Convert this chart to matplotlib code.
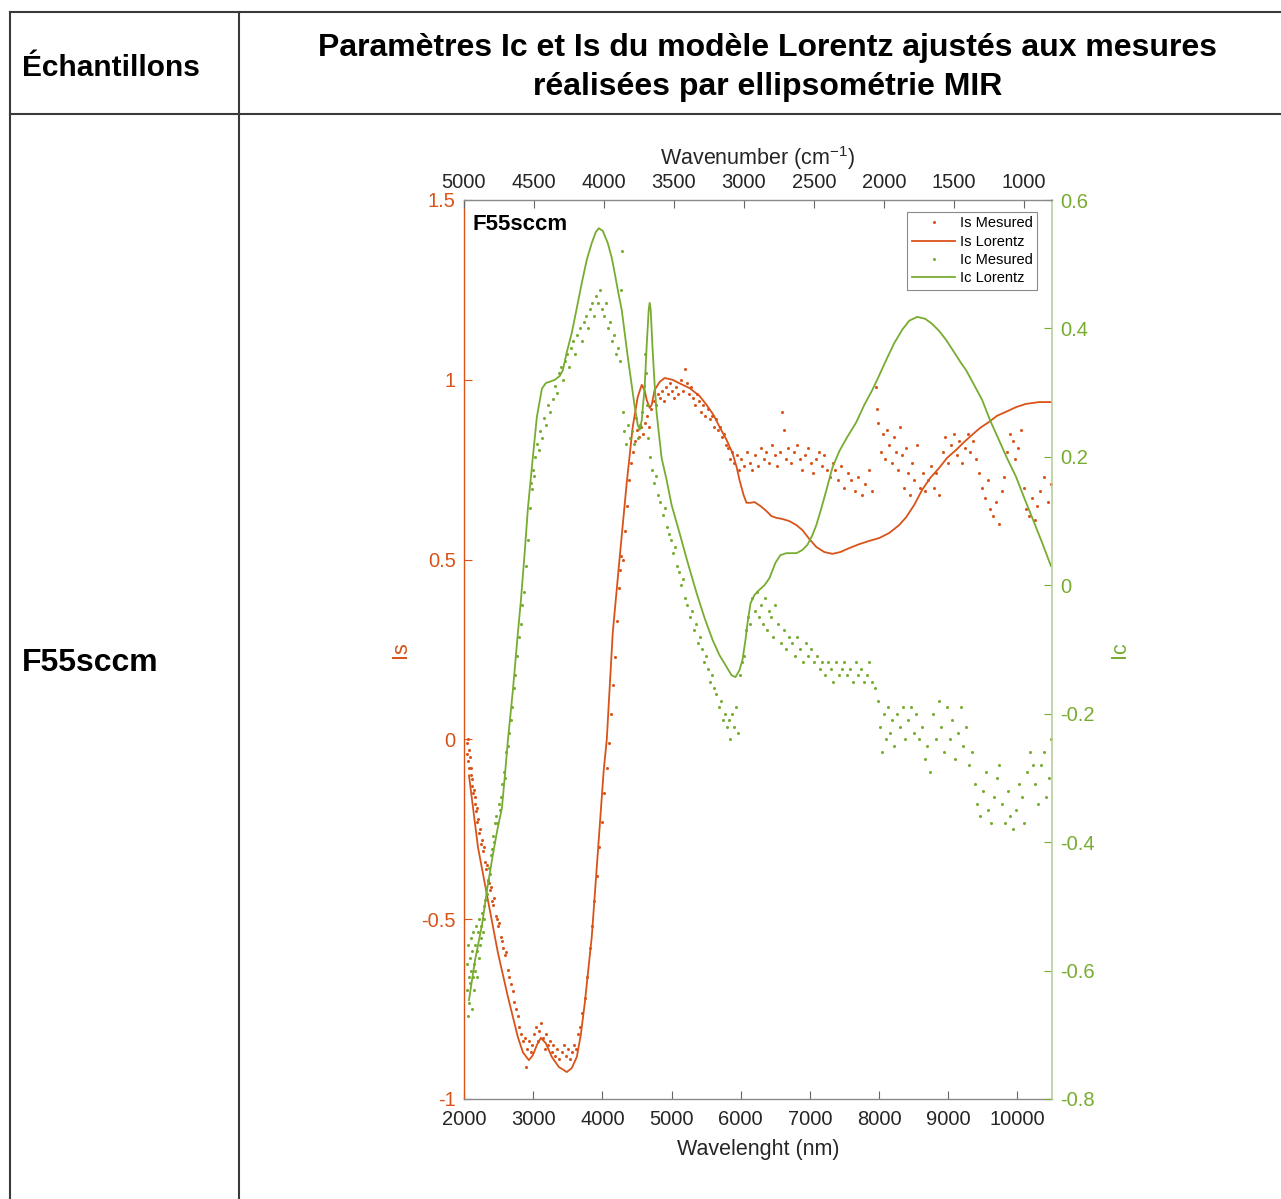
import matplotlib

matplotlib.use("Agg")
import matplotlib.pyplot as plt
from matplotlib.lines import Line2D

W, H = 1281, 1199
RED = "#D95319"
GREEN = "#77AC30"
INK = "#262626"
GRID = "#3a3a3a"

plt.rcParams["font.family"] = ["Liberation Sans", "DejaVu Sans"]
plt.rcParams["mathtext.default"] = "regular"
plt.rcParams["axes.unicode_minus"] = False

# --- data ----------------------------------------------------------------
# Is, Lorentz fit (wavelength nm, Is)
is_fit_x = [2072, 2202, 2346, 2491, 2635, 2779, 2851, 2938, 2996, 3053, 3111, 3183,
            3270, 3371, 3486, 3558, 3631, 3688, 3746, 3847, 3934, 4020, 4064, 4150,
            4251, 4352, 4439, 4511, 4569, 4612, 4641, 4684, 4713, 4756, 4828, 4900,
            5016, 5117, 5261, 5405, 5507, 5608, 5694, 5795, 5882, 5940, 5983, 6041,
            6084, 6142, 6199, 6286, 6372, 6444, 6517, 6603, 6704, 6805, 6892, 6993,
            7094, 7209, 7325, 7440, 7570, 7714, 7859, 8003, 8147, 8291, 8392, 8508,
            8623, 8739, 8869, 8984, 9114, 9230, 9345, 9460, 9590, 9706, 9835, 9980,
            10124, 10312, 10485]
is_fit_y = [-0.10, -0.30, -0.447, -0.594, -0.716, -0.828, -0.87, -0.892, -0.878, -0.85,
            -0.83, -0.845, -0.883, -0.911, -0.925, -0.914, -0.883, -0.822, -0.733, -0.549,
            -0.316, -0.085, 0.0, 0.296, 0.507, 0.713, 0.869, 0.952, 0.986, 0.97,
            0.944, 0.922, 0.93, 0.972, 0.994, 1.005, 1.0, 0.99, 0.977, 0.955,
            0.93, 0.902, 0.869, 0.833, 0.796, 0.758, 0.721, 0.68, 0.658, 0.658,
            0.66, 0.649, 0.635, 0.621, 0.616, 0.613, 0.607, 0.596, 0.582, 0.557,
            0.535, 0.521, 0.516, 0.521, 0.532, 0.543, 0.552, 0.56, 0.574, 0.596,
            0.618, 0.652, 0.694, 0.727, 0.755, 0.783, 0.805, 0.827, 0.847, 0.866,
            0.883, 0.9, 0.911, 0.924, 0.933, 0.938, 0.938]

# Ic, Lorentz fit (wavelength nm, Ic)
ic_fit_x = [2072, 2159, 2260, 2332, 2404, 2476, 2548, 2592, 2635, 2707, 2779, 2823,
            2880, 2924, 2981, 3053, 3126, 3183, 3241, 3313, 3385, 3429, 3486, 3558,
            3631, 3703, 3775, 3847, 3905, 3948, 4006, 4078, 4136, 4179, 4237, 4280,
            4323, 4367, 4424, 4468, 4511, 4540, 4569, 4612, 4641, 4670, 4684, 4699,
            4727, 4756, 4785, 4857, 4929, 5001, 5117, 5232, 5362, 5478, 5593, 5694,
            5795, 5867, 5925, 5983, 6026, 6069, 6098, 6142, 6199, 6271, 6343, 6415,
            6502, 6574, 6661, 6805, 6892, 6964, 7036, 7094, 7166, 7238, 7325, 7426,
            7541, 7671, 7787, 7902, 8003, 8104, 8219, 8335, 8436, 8551, 8667, 8768,
            8869, 8970, 9085, 9186, 9258, 9374, 9489, 9605, 9734, 9850, 9980, 10095,
            10211, 10355, 10485]
ic_fit_y = [-0.646, -0.584, -0.529, -0.475, -0.428, -0.384, -0.347, -0.295, -0.241, -0.163,
            -0.074, -0.023, 0.055, 0.12, 0.184, 0.262, 0.306, 0.315, 0.317, 0.32,
            0.326, 0.335, 0.363, 0.393, 0.432, 0.471, 0.507, 0.533, 0.55, 0.556,
            0.552, 0.533, 0.51, 0.486, 0.452, 0.429, 0.393, 0.356, 0.312, 0.278,
            0.25, 0.242, 0.257, 0.309, 0.374, 0.429, 0.44, 0.429, 0.366, 0.312,
            0.268, 0.198, 0.164, 0.125, 0.081, 0.036, -0.012, -0.051, -0.085, -0.109,
            -0.127, -0.14, -0.143, -0.132, -0.116, -0.085, -0.059, -0.028, -0.015, -0.007,
            0.0, 0.011, 0.035, 0.047, 0.05, 0.05, 0.055, 0.063, 0.078, 0.094,
            0.12, 0.148, 0.183, 0.209, 0.231, 0.254, 0.281, 0.304, 0.327, 0.351,
            0.377, 0.398, 0.412, 0.418, 0.415, 0.407, 0.396, 0.382, 0.363, 0.346,
            0.335, 0.312, 0.289, 0.257, 0.226, 0.198, 0.169, 0.137, 0.106, 0.067,
            0.03]

# Is, measured points
is_mes_x = [2040, 2048, 2055, 2062, 2070, 2078, 2086, 2095, 2104, 2113, 2122, 2132,
            2142, 2152, 2162, 2173, 2184, 2195, 2207, 2219, 2231, 2244, 2257, 2270,
            2284, 2298, 2312, 2327, 2342, 2357, 2373, 2389, 2405, 2422, 2439, 2456,
            2474, 2492, 2511, 2530, 2550, 2570, 2591, 2612, 2634, 2656, 2679, 2702,
            2726, 2750, 2775, 2800, 2826, 2852, 2879, 2890,
            2915, 2940, 2965, 2990, 3015, 3040, 3065, 3090, 3115, 3140, 3165, 3190,
            3215, 3240, 3265, 3290, 3320, 3350, 3380, 3410, 3440, 3470, 3500, 3530,
            3560, 3590, 3620, 3650, 3680, 3710,
            3745, 3780, 3815, 3850, 3885, 3920, 3955, 3990, 4025, 4060, 4095, 4125,
            4155, 4185, 4210, 4235, 4255, 4275, 4300, 4325, 4350, 4380, 4410, 4440,
            4470, 4500, 4530, 4560, 4590, 4620, 4650, 4680, 4710, 4740, 4770, 4800,
            4830, 4860, 4890, 4920, 4950, 4980, 5010, 5040, 5070, 5100, 5130, 5160,
            5190, 5220, 5250, 5280, 5310, 5340, 5370, 5400, 5430, 5460, 5490, 5520,
            5550, 5580, 5610, 5640, 5670, 5700, 5730, 5760, 5790, 5820, 5850, 5880,
            5910, 5940, 5970,
            6010, 6050, 6090, 6130, 6170, 6210, 6250, 6290, 6330, 6370, 6410, 6450,
            6490, 6530, 6570, 6600, 6620, 6650, 6690, 6730, 6770, 6810, 6850, 6890,
            6930, 6970, 7010, 7050, 7090, 7130, 7170, 7210, 7250, 7290, 7330, 7370,
            7410, 7450, 7500, 7550, 7600, 7650, 7700, 7750, 7800, 7850, 7900,
            7950, 7970, 7990, 8030, 8060, 8090, 8120, 8150, 8180, 8210, 8240, 8270,
            8300, 8330, 8360, 8390, 8420, 8450, 8480, 8510, 8550, 8590, 8630, 8670,
            8710, 8750, 8790, 8830, 8870, 8920, 8960, 9000, 9040, 9080, 9120, 9160,
            9200, 9240, 9280, 9320, 9360, 9400, 9450, 9490, 9530, 9570, 9610, 9650,
            9690, 9730, 9770, 9810, 9850, 9890, 9930, 9970, 10010, 10050, 10090, 10130,
            10170, 10210, 10250, 10290, 10330, 10390, 10440, 10490]
is_mes_y = [-0.01, -0.04, 0.00, -0.06, -0.03, -0.08, -0.05, -0.10, -0.08, -0.13, -0.11, -0.15,
            -0.14, -0.18, -0.16, -0.20, -0.19, -0.23, -0.22, -0.26, -0.25, -0.29, -0.28, -0.31,
            -0.30, -0.34, -0.36, -0.35, -0.39, -0.40, -0.42, -0.41, -0.45, -0.46, -0.44, -0.49,
            -0.50, -0.52, -0.51, -0.55, -0.56, -0.58, -0.60, -0.59, -0.64, -0.66, -0.68, -0.70,
            -0.73, -0.75, -0.77, -0.80, -0.82, -0.84, -0.83, -0.91,
            -0.86, -0.84, -0.87, -0.85, -0.82, -0.80, -0.84, -0.81, -0.79, -0.83, -0.86, -0.82,
            -0.85, -0.84, -0.87, -0.85, -0.88, -0.86, -0.89, -0.87, -0.85, -0.88, -0.86, -0.89,
            -0.87, -0.85, -0.86, -0.82, -0.80, -0.76,
            -0.72, -0.66, -0.58, -0.52, -0.45, -0.38, -0.30, -0.23, -0.15, -0.08, -0.01, 0.07,
            0.15, 0.23, 0.33, 0.42, 0.47, 0.51, 0.50, 0.58, 0.65, 0.72, 0.77, 0.80,
            0.83, 0.86, 0.84, 0.87, 0.85, 0.88, 0.90, 0.87, 0.92, 0.94, 0.93, 0.96,
            0.95, 0.97, 0.94, 0.98, 0.96, 0.99, 0.97, 0.95, 0.98, 0.96, 1.00, 0.97,
            1.03, 0.99, 0.96, 0.98, 0.95, 0.93, 0.96, 0.94, 0.91, 0.93, 0.90, 0.92,
            0.89, 0.90, 0.87, 0.89, 0.86, 0.87, 0.84, 0.85, 0.82, 0.81, 0.78, 0.80,
            0.77, 0.79, 0.75,
            0.78, 0.76, 0.80, 0.77, 0.75, 0.79, 0.76, 0.81, 0.78, 0.80, 0.77, 0.82,
            0.79, 0.76, 0.80, 0.91, 0.86, 0.78, 0.81, 0.77, 0.80, 0.82, 0.78, 0.75,
            0.79, 0.81, 0.77, 0.74, 0.78, 0.80, 0.76, 0.79, 0.75, 0.73, 0.77, 0.75,
            0.72, 0.76, 0.70, 0.74, 0.72, 0.69, 0.73, 0.68, 0.71, 0.75, 0.69,
            0.98, 0.92, 0.88, 0.80, 0.85, 0.78, 0.86, 0.82, 0.77, 0.84, 0.80, 0.75,
            0.87, 0.79, 0.70, 0.81, 0.74, 0.68, 0.77, 0.72, 0.82, 0.70, 0.74, 0.69,
            0.72, 0.76, 0.70, 0.74, 0.68, 0.80, 0.84, 0.77, 0.82, 0.85, 0.79, 0.83,
            0.77, 0.81, 0.85, 0.80, 0.83, 0.78, 0.74, 0.70, 0.67, 0.72, 0.64, 0.62,
            0.66, 0.60, 0.69, 0.73, 0.80, 0.85, 0.83, 0.78, 0.81, 0.86, 0.70, 0.64,
            0.62, 0.67, 0.61, 0.65, 0.69, 0.73, 0.66, 0.71]

# Ic, measured points
ic_mes_x = [2040, 2047, 2054, 2061, 2068, 2075, 2082, 2089, 2096, 2103, 2110, 2118,
            2126, 2134, 2142, 2150, 2158, 2166, 2175, 2184, 2193, 2202, 2211, 2221,
            2231, 2241, 2251, 2262, 2273, 2284, 2296, 2308, 2320, 2333, 2346, 2360,
            2374, 2389, 2404, 2419, 2435, 2451, 2467, 2484, 2501, 2519, 2537, 2555,
            2574, 2593, 2613, 2633, 2654, 2676, 2698, 2721, 2744, 2768, 2792, 2817,
            2843, 2869, 2896, 2923, 2950, 2965, 2980, 2995, 3010, 3030, 3055, 3080,
            3105, 3130, 3160, 3190, 3220, 3250, 3280, 3310, 3340, 3370, 3400, 3430,
            3460, 3490, 3520, 3550, 3580, 3610, 3640, 3670, 3700, 3730, 3760, 3790,
            3820, 3850, 3880, 3910, 3940, 3965, 3990, 4020, 4050, 4080, 4110, 4140,
            4170, 4200, 4230, 4255, 4270, 4285, 4300, 4320, 4345, 4370, 4400, 4430,
            4460, 4490, 4520, 4550, 4575, 4595, 4615, 4630, 4645, 4665, 4690, 4720,
            4750, 4780, 4810, 4840, 4870, 4900, 4930, 4960, 4990, 5020, 5050, 5080,
            5110, 5140, 5170, 5200, 5230, 5260, 5290, 5320, 5350, 5380, 5410, 5440,
            5470, 5500, 5530, 5560, 5590, 5620, 5650, 5680, 5710, 5740, 5770, 5800,
            5830, 5850, 5870, 5900, 5930, 5960, 5990, 6020, 6050, 6080, 6110, 6140,
            6170, 6200, 6230, 6260, 6290, 6320, 6350, 6380, 6410, 6440, 6470, 6500,
            6540, 6580, 6620, 6660, 6700, 6740, 6780, 6820, 6860, 6900, 6940, 6980,
            7020, 7060, 7100, 7140, 7180, 7220, 7260, 7300, 7340, 7380, 7420, 7460,
            7500, 7540, 7580, 7620, 7660, 7700, 7740, 7780, 7820, 7860, 7900, 7940,
            7980, 8010, 8040, 8070, 8100, 8130, 8160, 8190, 8220, 8260, 8300, 8340,
            8380, 8420, 8460, 8500, 8540, 8580, 8620, 8660, 8700, 8740, 8780, 8820,
            8860, 8900, 8940, 8980, 9020, 9060, 9100, 9140, 9180, 9220, 9260, 9300,
            9340, 9380, 9420, 9460, 9500, 9540, 9580, 9620, 9660, 9700, 9740, 9780,
            9820, 9860, 9900, 9940, 9980, 10020, 10060, 10100, 10140, 10180, 10220, 10260,
            10300, 10340, 10380, 10420, 10460, 10490]
ic_mes_y = [-0.63, -0.59, -0.67, -0.56, -0.61, -0.65, -0.58, -0.62, -0.55, -0.60, -0.66, -0.57,
            -0.61, -0.54, -0.59, -0.63, -0.56, -0.60, -0.53, -0.57, -0.61, -0.54, -0.58, -0.52,
            -0.56, -0.53, -0.55, -0.51, -0.54, -0.50, -0.52, -0.49, -0.47, -0.48, -0.46, -0.44,
            -0.45, -0.42, -0.41, -0.39, -0.40, -0.37, -0.36, -0.37, -0.34, -0.35, -0.33, -0.31,
            -0.29, -0.30, -0.26, -0.25, -0.23, -0.21, -0.19, -0.16, -0.14, -0.11, -0.08, -0.06,
            -0.03, -0.01, 0.03, 0.07, 0.12, 0.16, 0.15, 0.18, 0.17, 0.20, 0.22, 0.21,
            0.24, 0.23, 0.26, 0.25, 0.28, 0.27, 0.29, 0.31, 0.30, 0.33, 0.34, 0.32,
            0.35, 0.36, 0.34, 0.37, 0.38, 0.36, 0.39, 0.40, 0.38, 0.41, 0.42, 0.40,
            0.43, 0.44, 0.42, 0.45, 0.44, 0.46, 0.43, 0.42, 0.44, 0.40, 0.41, 0.38,
            0.39, 0.36, 0.37, 0.35, 0.46, 0.52, 0.27, 0.24, 0.22, 0.25, 0.23, 0.24,
            0.22, 0.26, 0.23, 0.25, 0.27, 0.31, 0.36, 0.33, 0.28, 0.23, 0.20, 0.18,
            0.16, 0.17, 0.14, 0.13, 0.11, 0.12, 0.09, 0.08, 0.07, 0.05, 0.06, 0.03,
            0.02, 0.00, 0.01, -0.02, -0.03, -0.05, -0.04, -0.07, -0.06, -0.09, -0.08, -0.10,
            -0.12, -0.11, -0.13, -0.15, -0.14, -0.16, -0.17, -0.19, -0.18, -0.21, -0.20, -0.22,
            -0.21, -0.24, -0.20, -0.22, -0.19, -0.23, -0.14, -0.12, -0.11, -0.07, -0.05, -0.06,
            -0.02, -0.04, -0.01, -0.05, -0.03, -0.06, -0.02, -0.07, -0.04, -0.05, -0.08, -0.03,
            -0.06, -0.09, -0.07, -0.10, -0.08, -0.09, -0.11, -0.08, -0.10, -0.12, -0.09, -0.11,
            -0.10, -0.12, -0.11, -0.13, -0.12, -0.14, -0.12, -0.13, -0.15, -0.12, -0.14, -0.13,
            -0.12, -0.14, -0.13, -0.15, -0.12, -0.14, -0.13, -0.15, -0.14, -0.12, -0.15, -0.16,
            -0.18, -0.22, -0.26, -0.20, -0.24, -0.19, -0.23, -0.21, -0.25, -0.20, -0.22, -0.19,
            -0.24, -0.21, -0.19, -0.23, -0.20, -0.24, -0.22, -0.27, -0.25, -0.29, -0.20, -0.24,
            -0.18, -0.22, -0.26, -0.19, -0.24, -0.21, -0.27, -0.23, -0.19, -0.25, -0.22, -0.28,
            -0.26, -0.31, -0.34, -0.36, -0.32, -0.29, -0.35, -0.37, -0.33, -0.30, -0.28, -0.34,
            -0.37, -0.32, -0.36, -0.38, -0.35, -0.31, -0.33, -0.37, -0.29, -0.26, -0.28, -0.31,
            -0.34, -0.28, -0.26, -0.33, -0.30, -0.24]

# axis ticks and labels
wl_ticks = [2000, 3000, 4000, 5000, 6000, 7000, 8000, 9000, 10000]
wn_ticks = [5000, 4500, 4000, 3500, 3000, 2500, 2000, 1500, 1000]
is_ticks = [-1, -0.5, 0, 0.5, 1, 1.5]
is_tick_labels = ["-1", "-0.5", "0", "0.5", "1", "1.5"]
ic_ticks = [-0.8, -0.6, -0.4, -0.2, 0, 0.2, 0.4, 0.6]
ic_tick_labels = ["-0.8", "-0.6", "-0.4", "-0.2", "0", "0.2", "0.4", "0.6"]


def fx(px):
    return px / W


def fy(py):
    return 1 - py / H


fig = plt.figure(figsize=(W / 100, H / 100), dpi=100)

# table frame
for x0, y0, x1, y1 in [(10, 12, W, 12), (10, 114, W, 114), (10, 12, 10, H), (239, 12, 239, H)]:
    fig.add_artist(Line2D([fx(x0), fx(x1)], [fy(y0), fy(y1)], color=GRID, lw=1.5))

head = dict(fontweight="bold", color="black", va="center")
fig.text(fx(22), fy(68), "Échantillons", ha="left", fontsize=21.5, **head)
fig.text(fx(768), fy(48), "Paramètres Ic et Is du modèle Lorentz ajustés aux mesures",
         ha="center", fontsize=23, **head)
fig.text(fx(768), fy(87), "réalisées par ellipsométrie MIR", ha="center", fontsize=23, **head)
fig.text(fx(22), fy(663), "F55sccm", ha="left", fontsize=23, **head)

# plot
ax = fig.add_axes([fx(464), fy(1099), (1052 - 464) / W, (1099 - 200) / H])
h1, = ax.plot(is_mes_x, is_mes_y, ls="none", marker="o", ms=2.2, mew=0, color=RED, label="Is Mesured")
h2, = ax.plot(is_fit_x, is_fit_y, color=RED, lw=1.3, label="Is Lorentz")
ax.set_xlim(2000, 10500)
ax.set_ylim(-1, 1.5)
ax.set_xticks(wl_ticks)
ax.set_yticks(is_ticks, is_tick_labels)
ax.tick_params(axis="x", direction="in", length=6, width=0.8, color="#666666",
               labelcolor=INK, labelsize=14.5, pad=8)
ax.tick_params(axis="y", direction="in", length=6, width=0.8, color=RED,
               labelcolor=RED, labelsize=14.5, pad=6)
ax.set_xlabel("Wavelenght (nm)", fontsize=15.5, color=INK)
ax.xaxis.set_label_coords(0.5, -0.044)
ax.set_ylabel("Is", fontsize=15.5, color=RED)
ax.yaxis.set_label_coords(-0.09, 0.5)

ax2 = ax.twinx()
h3, = ax2.plot(ic_mes_x, ic_mes_y, ls="none", marker="o", ms=2.2, mew=0, color=GREEN, label="Ic Mesured")
h4, = ax2.plot(ic_fit_x, ic_fit_y, color=GREEN, lw=1.3, label="Ic Lorentz")
ax2.set_ylim(-0.8, 0.6)
ax2.set_yticks(ic_ticks, ic_tick_labels)
ax2.tick_params(axis="y", direction="in", length=6, width=0.8, color=GREEN,
                labelcolor=GREEN, labelsize=14.5, pad=6)
ax2.set_ylabel("Ic", fontsize=15.5, color=GREEN)
ax2.yaxis.set_label_coords(1.097, 0.5)

ax3 = ax.twiny()
ax3.set_xlim(5000, 800)
ax3.set_xticks(wn_ticks)
ax3.tick_params(axis="x", direction="in", length=6, width=0.8, color="#666666",
                labelcolor=INK, labelsize=14.5, pad=6)
ax3.set_xlabel("Wavenumber (cm$^{-1}$)", fontsize=15.5, color=INK)
ax3.xaxis.set_label_coords(0.5, 1.039)

for a in (ax, ax2, ax3):
    for s in a.spines.values():
        s.set_visible(False)
ax.spines["left"].set_visible(True)
ax.spines["left"].set_color(RED)
ax.spines["bottom"].set_visible(True)
ax.spines["bottom"].set_color("#8a8a8a")
ax2.spines["right"].set_visible(True)
ax2.spines["right"].set_color("#b9cf9c")
ax3.spines["top"].set_visible(True)
ax3.spines["top"].set_color("#8a8a8a")
for s in ("left", "bottom"):
    ax.spines[s].set_linewidth(1.0)
ax2.spines["right"].set_linewidth(1.2)
ax3.spines["top"].set_linewidth(1.0)

ax3.text(0.015, 0.973, "F55sccm", transform=ax3.transAxes, fontsize=16,
         fontweight="bold", va="center", ha="left", color="black")

leg = ax3.legend([h1, h2, h3, h4], [h.get_label() for h in (h1, h2, h3, h4)],
                 loc="upper right", bbox_to_anchor=(0.9745, 0.9867), borderaxespad=0,
                 fontsize=10.5, handlelength=3.0, labelspacing=0.3, handletextpad=0.3,
                 borderpad=0.3, fancybox=False, framealpha=1, edgecolor="#8a8a8a",
                 numpoints=1)
leg.get_frame().set_linewidth(0.8)

fig.savefig("out.png", dpi=100)
